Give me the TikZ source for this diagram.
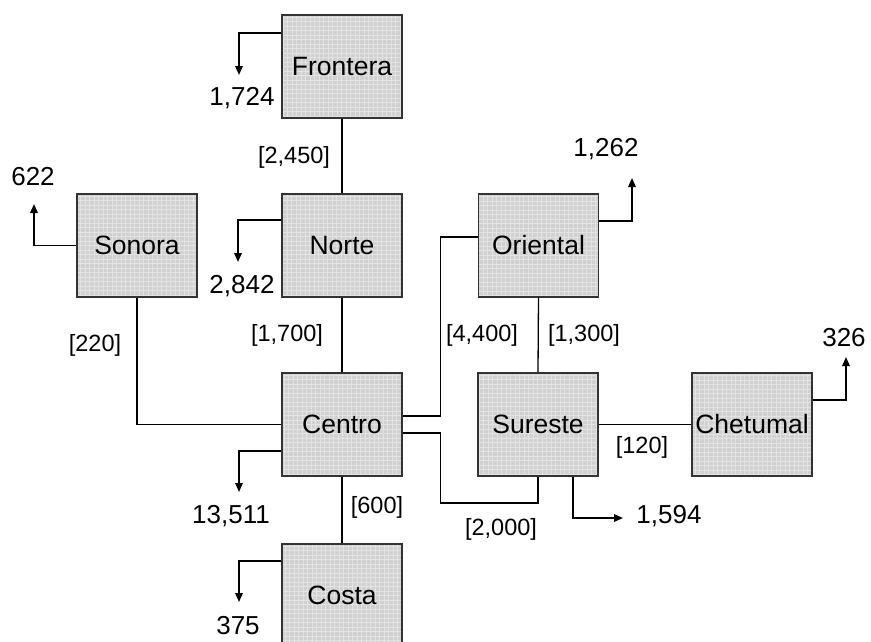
\documentclass[tikz,border=0pt]{standalone}
\usepackage{fontspec}
\setmainfont{Liberation Sans}
\usetikzlibrary{arrows.meta}
\tikzset{
  region/.style={draw=black!80, line width=1.3pt, fill=black!18,
    minimum width=120pt, minimum height=103pt, inner sep=0pt,
    font=\fontsize{26.5}{28}\selectfont,
    path picture={\draw[step=4.5pt, black!11, line width=0.6pt]
      (path picture bounding box.south west) grid (path picture bounding box.north east);}},
  link/.style={draw=black, line width=1.3pt},
  outflow/.style={draw=black, line width=1.7pt, -{Triangle[length=9pt,width=7.5pt]}},
  linklabel/.style={font=\fontsize{23.5}{25}\selectfont, inner sep=0pt},
  amount/.style={font=\fontsize{26}{28}\selectfont, inner sep=0pt}
}
\begin{document}
\begin{tikzpicture}[x=1pt,y=-1pt]
\useasboundingbox (0,0) rectangle (871,641);
% regions
\node[region] (Frontera) at (342,66.5) {Frontera};
\node[region] (Sonora) at (137,245.5) {Sonora};
\node[region] (Norte) at (342,245.5) {Norte};
\node[region] (Oriental) at (538.5,245.5) {Oriental};
\node[region] (Centro) at (342,424.5) {Centro};
\node[region] (Sureste) at (538,424.5) {Sureste};
\node[region] (Chetumal) at (752,424.5) {Chetumal};
\node[region] (Costa) at (342,595.5) {Costa};
% links
\draw[link] (Frontera.south) -- (Norte.north);
\draw[link] (Norte.south) -- (Centro.north);
\draw[link] (Sonora.south) |- (Centro.west);
\draw[link] ([yshift=8.5pt]Centro.east) -- ++(38,0) |- ([yshift=8.5pt]Oriental.west);
\draw[link] ([yshift=-8.5pt]Centro.east) -- ++(38,0) -- ++(0,70) -| (Sureste.south);
\draw[link] (Oriental.south) -- (Sureste.north);
\draw[link] (Sureste.east) -- (Chetumal.west);
\draw[link] (Centro.south) -- (Costa.north);
% link labels
\node[linklabel] (l2450) at (294,157) {[2,450]};
\node[linklabel] (l1700) at (287,335) {[1,700]};
\node[linklabel] (l220) at (95,345) {[220]};
\node[linklabel] (l4400) at (482,335) {[4,400]};
\node[linklabel] (l1300) at (584,335) {[1,300]};
\node[linklabel] (l2000) at (501,529) {[2,000]};
\node[linklabel] (l120) at (642,447) {[120]};
\node[linklabel] (l600) at (377,507) {[600]};
% outflow tips
\coordinate (tFrontera) at (239,75);
\coordinate (tNorte) at (238,262);
\coordinate (tSonora) at (34,204);
\coordinate (tOriental) at (632,178);
\coordinate (tChetumal) at (846,357);
\coordinate (tCentro) at (239,492);
\coordinate (tCosta) at (239,602);
\coordinate (tSureste) at (623,518);
\draw[outflow] ([yshift=33.5pt]Frontera.west) -| (tFrontera);
\draw[outflow] ([yshift=25.5pt]Norte.west) -| (tNorte);
\draw[outflow] (Sonora.west) -| (tSonora);
\draw[outflow] ([yshift=24.5pt]Oriental.east) -| (tOriental);
\draw[outflow] ([yshift=24.5pt]Chetumal.east) -| (tChetumal);
\draw[outflow] ([yshift=-26.5pt]Centro.west) -| (tCentro);
\draw[outflow] ([yshift=34.5pt]Costa.west) -| (tCosta);
\draw[outflow] ([xshift=35pt]Sureste.south) |- (tSureste);
% amounts
\node[amount] (aFrontera) at (242,98) {1,724};
\node[amount] (aNorte) at (242,286) {2,842};
\node[amount] (aSonora) at (33,177) {622};
\node[amount] (aOriental) at (606,149) {1,262};
\node[amount] (aChetumal) at (844,338) {326};
\node[amount] (aCentro) at (231,516) {13,511};
\node[amount] (aCosta) at (238,626) {375};
\node[amount] (aSureste) at (669,516) {1,594};
\end{tikzpicture}
\end{document}
